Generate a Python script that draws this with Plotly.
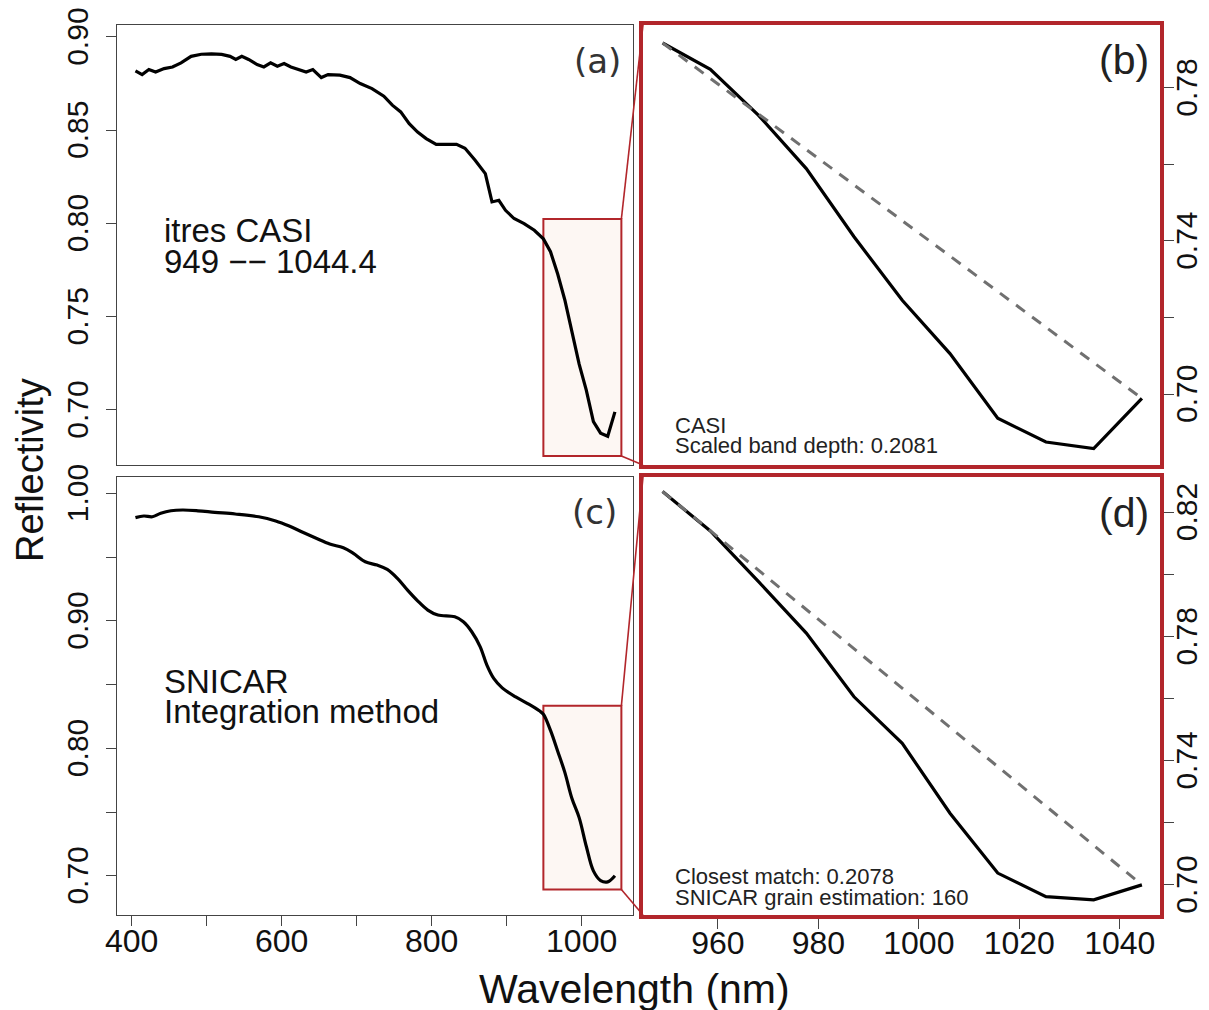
import plotly.graph_objects as go

# CASI spectrum (panel a), wavelengths in nm
casi_wl = [405.1, 414.0, 423.0, 432.0, 443.3, 454.5, 465.9, 479.3, 492.9, 506.4,
           520.0, 531.2, 538.9, 546.9, 556.0, 567.3, 576.3, 585.3, 594.3, 603.3,
           612.4, 623.6, 632.7, 641.6, 652.9, 661.9, 677.7, 691.2, 704.8, 720.5,
           736.3, 747.6, 758.8, 770.1, 781.3, 792.7, 806.1, 822.0, 833.2, 844.5,
           858.0, 871.6, 880.5, 889.6, 898.5, 909.9, 923.3, 936.9]
casi_refl = [0.8818, 0.8798, 0.8825, 0.8812, 0.8830, 0.8839, 0.8861, 0.8896, 0.8907, 0.8909,
             0.8906, 0.8896, 0.8879, 0.8896, 0.8879, 0.8852, 0.8839, 0.8861, 0.8843, 0.8857,
             0.8839, 0.8825, 0.8812, 0.8825, 0.8782, 0.8798, 0.8795, 0.8782, 0.8750, 0.8723,
             0.8682, 0.8634, 0.8598, 0.8535, 0.8490, 0.8455, 0.8424, 0.8424, 0.8424, 0.8403,
             0.8339, 0.8267, 0.8115, 0.8124, 0.8070, 0.8026, 0.7999, 0.7963]

# band 949 -- 1044.4 (panels b, d)
band_wl = [949.0, 958.5, 968.1, 977.6, 987.1, 996.7, 1006.2, 1015.7, 1025.3, 1034.8, 1044.4]
casi_band = [0.7917, 0.7848, 0.7728, 0.7589, 0.7411, 0.7245, 0.7106, 0.6937, 0.6875, 0.6858, 0.6989]
snicar_band = [0.8267, 0.8140, 0.7977, 0.7811, 0.7606, 0.7456, 0.7231, 0.7038, 0.6962, 0.6952, 0.7000]

# SNICAR spectrum (panel c)
snicar_wl = [405.1, 416.3, 427.6, 438.8, 452.4, 468.1, 488.4, 510.9, 538.0, 569.5,
             592.1, 610.1, 628.1, 646.1, 664.1, 682.3, 695.7, 711.5, 727.3, 740.8,
             754.4, 767.9, 781.3, 794.9, 808.4, 830.9, 842.3, 853.5, 864.8, 873.7,
             882.8, 894.1, 912.1, 930.1, 943.6]
snicar_refl = [0.9809, 0.9822, 0.9816, 0.9843, 0.9863, 0.9869, 0.9863, 0.9851, 0.9838, 0.9816,
               0.9783, 0.9743, 0.9694, 0.9647, 0.9602, 0.9573, 0.9529, 0.9463, 0.9437, 0.9403,
               0.9333, 0.9241, 0.9157, 0.9084, 0.9045, 0.9031, 0.8992, 0.8914, 0.8796, 0.8652,
               0.8548, 0.8474, 0.8403, 0.8344, 0.8294]

# zoom boxes drawn in panels a and c
box_x = [949, 1053]
box_a_y = [0.6752, 0.8024]
box_c_y = [0.6892, 0.8333]

RED = "#B2262B"
FONT = "Liberation Sans, Arial, sans-serif"
W, H = 1209, 1010
OFF = 8  # page body margin


def fx(px):
    return (px - OFF) / W


def fy(py):
    return 1 - (py - OFF) / H


dom_left = [fx(117), fx(633)]
dom_right = [fx(643), fx(1160)]
dom_top = [fy(465), fy(25)]
dom_bot = [fy(915), fy(477)]

rng_x_left = [380.5, 1068.5]
rng_x_right = [945.1, 1048.0]
rng_a = [0.6704, 0.9064]
rng_b = [0.6815, 0.7964]
rng_c = [0.6692, 1.0128]
rng_d = [0.6903, 0.8314]


def to_paper(v, rng, dom):
    return dom[0] + (v - rng[0]) / (rng[1] - rng[0]) * (dom[1] - dom[0])


def ticks(vals, shown):
    # trailing nbsp nudges the rotated label down a few px, as in the original
    return dict(tickvals=vals,
                ticktext=[f"{v:.2f}\u00a0" if round(v, 2) in shown else "" for v in vals])


fig = go.Figure()
line_k = dict(color="black", width=3.2)
dash_k = dict(color="#707070", width=3, dash="11px,9px")

fig.add_trace(go.Scatter(x=casi_wl + band_wl, y=casi_refl + casi_band, mode="lines",
                         line=line_k, xaxis="x", yaxis="y"))
fig.add_trace(go.Scatter(x=band_wl, y=casi_band, mode="lines", line=line_k, xaxis="x2", yaxis="y2"))
fig.add_trace(go.Scatter(x=[band_wl[0], band_wl[-1]], y=[casi_band[0], casi_band[-1]], mode="lines",
                         line=dash_k, xaxis="x2", yaxis="y2"))
fig.add_trace(go.Scatter(x=snicar_wl + band_wl, y=snicar_refl + snicar_band, mode="lines",
                         line=line_k, line_shape="spline", xaxis="x3", yaxis="y3"))
fig.add_trace(go.Scatter(x=band_wl, y=snicar_band, mode="lines", line=line_k, xaxis="x4", yaxis="y4"))
fig.add_trace(go.Scatter(x=[band_wl[0], band_wl[-1]], y=[snicar_band[0], snicar_band[-1]], mode="lines",
                         line=dash_k, xaxis="x4", yaxis="y4"))

left_frame = dict(showline=True, mirror=True, linecolor="#444", linewidth=1.3,
                  showgrid=False, zeroline=False, automargin=False)
right_frame = dict(showline=True, mirror=True, linecolor=RED, linewidth=4,
                   showgrid=False, zeroline=False, automargin=False)
tkx = dict(ticks="outside", ticklen=10, tickcolor="#444", tickwidth=1.2,
           tickfont=dict(family=FONT, size=32, color="#111"), ticklabeloverflow="allow")
tky = dict(tkx, tickfont=dict(family=FONT, size=30, color="#111"), tickangle=-90)

xt_left = list(range(400, 1001, 100))
xt_right = [960, 980, 1000, 1020, 1040]

fig.update_layout(
    width=W, height=H,
    margin=dict(l=0, r=0, t=0, b=0, autoexpand=False),
    plot_bgcolor="white", paper_bgcolor="white",
    showlegend=False,
    xaxis=dict(domain=dom_left, range=rng_x_left, anchor="y", showticklabels=False, **left_frame),
    yaxis=dict(domain=dom_top, range=rng_a, anchor="x", ticklabelstandoff=6,
               **ticks([0.70, 0.75, 0.80, 0.85, 0.90], [0.70, 0.75, 0.80, 0.85, 0.90]),
               **tky, **left_frame),
    xaxis2=dict(domain=dom_right, range=rng_x_right, anchor="y2", showticklabels=False, **right_frame),
    yaxis2=dict(domain=dom_top, range=rng_b, anchor="x2", side="right", ticklabelstandoff=-13,
                **ticks([0.70, 0.72, 0.74, 0.76, 0.78], [0.70, 0.74, 0.78]), **tky, **right_frame),
    xaxis3=dict(domain=dom_left, range=rng_x_left, anchor="y3", ticklabelstandoff=-13,
                tickvals=xt_left, ticktext=[str(v) if v % 200 == 0 else "" for v in xt_left],
                **tkx, **left_frame),
    yaxis3=dict(domain=dom_bot, range=rng_c, anchor="x3", ticklabelstandoff=6,
                **ticks([0.70, 0.75, 0.80, 0.85, 0.90, 0.95, 1.00], [0.70, 0.80, 0.90, 1.00]),
                **tky, **left_frame),
    xaxis4=dict(domain=dom_right, range=rng_x_right, anchor="y4", ticklabelstandoff=-13,
                tickvals=xt_right, ticktext=[str(v) for v in xt_right], **tkx, **right_frame),
    yaxis4=dict(domain=dom_bot, range=rng_d, anchor="x4", side="right", ticklabelstandoff=-13,
                **ticks([0.70, 0.72, 0.74, 0.76, 0.78, 0.80, 0.82], [0.70, 0.74, 0.78, 0.82]),
                **tky, **right_frame),
)

# zoom boxes and connector lines
for xr, yr, by, rng_y, dom_y in [("x", "y", box_a_y, rng_a, dom_top),
                                 ("x3", "y3", box_c_y, rng_c, dom_bot)]:
    fig.add_shape(type="rect", xref=xr, yref=yr, x0=box_x[0], x1=box_x[1], y0=by[0], y1=by[1],
                  line=dict(color=RED, width=2), fillcolor="#FDF7F3", layer="below")
    px = to_paper(box_x[1], rng_x_left, dom_left)
    fig.add_shape(type="line", xref="paper", yref="paper",
                  x0=px, y0=to_paper(by[1], rng_y, dom_y), x1=dom_right[0], y1=dom_y[1],
                  line=dict(color=RED, width=1.6))
    fig.add_shape(type="line", xref="paper", yref="paper",
                  x0=px, y0=to_paper(by[0], rng_y, dom_y), x1=dom_right[0], y1=dom_y[0],
                  line=dict(color=RED, width=1.6))


def note(text, x, y, size, xanchor="left", family=FONT, color="#111", angle=0):
    fig.add_annotation(text=text, x=fx(x), y=fy(y), xref="paper", yref="paper",
                       xanchor=xanchor, yanchor="middle", showarrow=False, textangle=angle,
                       font=dict(family=family, size=size, color=color))


DV = "DejaVu Sans, sans-serif"
note("(a)", 623, 61, 34, xanchor="right", family=DV, color="#333")
note("(c)", 619, 512, 34, xanchor="right", family=DV, color="#333")
note("(b)", 1151, 60, 41, xanchor="right", color="#222")
note("(d)", 1151, 513, 41, xanchor="right", color="#222")

note("itres CASI", 162, 231, 33)
note("949 \u2212\u2212 1044.4", 162, 261, 33)
note("SNICAR", 162, 681, 33)
note("Integration method", 162, 711, 33)

note("CASI", 673, 426, 22, color="#222")
note("Scaled band depth: 0.2081", 673, 446, 22, color="#222")
note("Closest match: 0.2078", 673, 876, 22, color="#222")
note("SNICAR grain estimation: 160", 673, 897, 22, color="#222")

note("Reflectivity", 30, 470, 38, xanchor="center", angle=-90)
note("Wavelength (nm)", 634, 989, 41, xanchor="center")

fig.write_html("out.html")
